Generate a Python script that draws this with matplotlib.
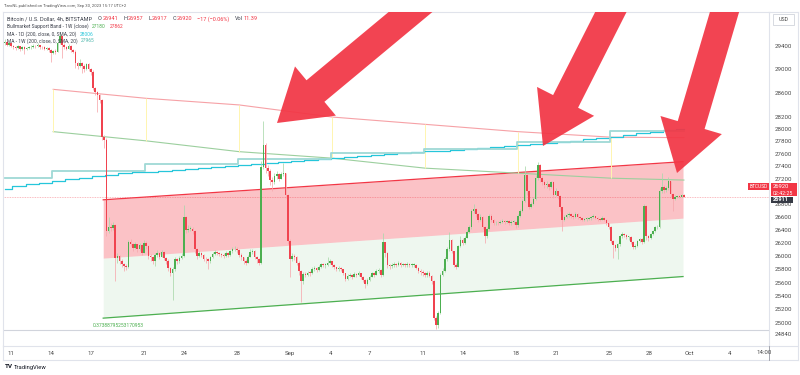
import numpy as np
import matplotlib
matplotlib.use('Agg')
import matplotlib.pyplot as plt
from matplotlib.patches import Polygon, Rectangle
from matplotlib.lines import Line2D
from matplotlib.ticker import NullLocator, NullFormatter

plt.rcParams['font.family'] = ['Roboto', 'DejaVu Sans']

# ---------------- data (BTC/USD 4h, Bitstamp) ----------------
first_open = 29450
close = [
    29470, 29420, 29440, 29400, 29380, 29360, 29390, 29350, 29370, 29340,
    29360, 29370, 29380, 29400, 29390, 29410, 29380, 29370, 29350, 29360,
    29330, 29280, 29310, 29300, 29450, 29560, 29420, 29380, 29350, 29400,
    29330, 29300, 29100, 29050, 29100, 29060, 29000, 29080, 29000, 28950,
    28680, 28620, 28560, 28480, 27870, 27830, 26380, 26450, 26430, 26480,
    25970, 26000, 25920, 25880, 25850, 25840, 26210, 26180, 26120, 26180,
    26100, 26170, 26050, 26200, 26150, 26000, 25980, 25920, 26010, 26050,
    25990, 26060, 25970, 25930, 25820, 25750, 25800, 25950, 25920, 25970,
    26000, 26600, 26400, 26420, 26420, 26380, 26100, 26000, 26040, 26020,
    25960, 25950, 25920, 25980, 26030, 26060, 26040, 26030, 26020, 26000,
    26040, 26010, 26070, 26100, 26110, 26090, 26020, 25980, 25920, 25900,
    25990, 26060, 26080, 25990, 25950, 25900, 27390, 27750, 27380, 27330,
    27180, 27150, 27250, 27280, 27200, 27280, 27290, 26950, 26230, 25950,
    26000, 25980, 25900, 25770, 25620, 25730, 25720, 25750, 25740, 25800,
    25820, 25790, 25840, 25880, 25860, 25860, 25900, 25920, 25870, 25830,
    25800, 25820, 25800, 25740, 25660, 25700, 25710, 25690, 25730, 25710,
    25740, 25690, 25640, 25580, 25640, 25690, 25740, 25720, 25770, 25790,
    25720, 26210, 26050, 25860, 25850, 25860, 25880, 25870, 25900, 25870,
    25880, 25870, 25880, 25860, 25870, 25870, 25820, 25780, 25760, 25740,
    25720, 25750, 25700, 25620, 25080, 24970, 25150, 25720, 25780, 25950,
    26100, 26250, 26070, 25870, 25840, 26150, 26250, 26200, 26280, 26370,
    26440, 26700, 26720, 26640, 26560, 26600, 26450, 26300, 26420, 26620,
    26550, 26500, 26510, 26500, 26520, 26540, 26520, 26530, 26510, 26520,
    26520, 26470, 26620, 26700, 26850, 27260, 27000, 26760, 26800, 26880,
    27210, 27420, 27210, 27150, 27100, 27120, 27070, 27150, 26950, 27000,
    26930, 26750, 26560, 26600, 26630, 26650, 26620, 26600, 26650, 26600,
    26580, 26560, 26570, 26570, 26580, 26600, 26610, 26590, 26570, 26560,
    26590, 26560, 26500, 26450, 26230, 26170, 26120, 26180, 26300, 26330,
    26320, 26290, 26290, 26220, 26140, 26160, 26230, 26260, 26220, 26770,
    26300, 26280, 26330, 26380, 26440, 26450, 27010, 27070, 27020, 27050,
    27160, 26960, 26880, 26920, 26930, 26920, 26940, 26920,
]
high = [
    29520, 29490, 29470, 29450, 29420, 29400, 29420, 29400, 29400, 29390,
    29380, 29400, 29410, 29430, 29420, 29440, 29420, 29400, 29390, 29380,
    29370, 29340, 29330, 29340, 29480, 29640, 29580, 29450, 29400, 29430,
    29410, 29350, 29320, 29130, 29180, 29120, 29080, 29110, 29100, 29020,
    28980, 28700, 28640, 28580, 28500, 27900, 27850, 26600, 26500, 26520,
    26490, 26050, 26020, 25950, 25900, 25880, 26250, 26260, 26200, 26220,
    26190, 26200, 26180, 26240, 26230, 26170, 26030, 26000, 26040, 26090,
    26060, 26090, 26070, 25990, 25950, 25840, 25830, 25980, 25970, 26000,
    26040, 26790, 26620, 26480, 26460, 26440, 26400, 26120, 26080, 26060,
    26030, 25990, 25970, 26000, 26060, 26090, 26080, 26060, 26050, 26040,
    26070, 26060, 26090, 26140, 26150, 26130, 26100, 26040, 25990, 25950,
    26020, 26100, 26110, 26090, 26000, 25970, 27480, 28140, 27780, 27420,
    27350, 27230, 27290, 27320, 27300, 27310, 27450, 27300, 26960, 26260,
    26050, 26030, 26000, 25920, 25790, 25760, 25760, 25780, 25770, 25830,
    25850, 25830, 25870, 25900, 25890, 25900, 25980, 25950, 25930, 25880,
    25840, 25850, 25830, 25810, 25750, 25730, 25740, 25730, 25760, 25750,
    25770, 25750, 25700, 25650, 25670, 25710, 25760, 25760, 25800, 25820,
    25800, 26350, 26220, 26060, 25880, 25890, 25910, 25900, 25920, 25910,
    25900, 25900, 25910, 25900, 25890, 25900, 25880, 25830, 25800, 25790,
    25760, 25780, 25770, 25720, 25640, 25100, 25180, 25740, 25820, 25990,
    26130, 26360, 26260, 26080, 25900, 26170, 26300, 26270, 26310, 26400,
    26480, 26730, 26800, 26740, 26660, 26640, 26620, 26460, 26450, 26650,
    26640, 26570, 26540, 26540, 26550, 26570, 26560, 26560, 26550, 26550,
    26550, 26530, 26650, 26730, 26880, 27400, 27280, 27020, 26840, 26910,
    27260, 27470, 27430, 27240, 27180, 27160, 27130, 27170, 27160, 27050,
    27010, 26950, 26760, 26630, 26660, 26680, 26660, 26640, 26670, 26660,
    26620, 26600, 26590, 26600, 26600, 26620, 26640, 26620, 26600, 26590,
    26610, 26600, 26570, 26510, 26460, 26250, 26190, 26200, 26320, 26360,
    26350, 26330, 26310, 26300, 26230, 26190, 26250, 26280, 26270, 26800,
    26780, 26320, 26350, 26400, 26460, 26480, 27050, 27290, 27100, 27080,
    27230, 27170, 26970, 26940, 26950, 26950, 26957, 26957,
]
low = [
    29420, 29390, 29400, 29370, 29340, 29320, 29340, 29310, 29330, 29250,
    29320, 29340, 29350, 29360, 29360, 29370, 29350, 29340, 29320, 29330,
    29290, 29120, 29250, 29260, 29290, 29430, 29190, 29350, 29320, 29340,
    29300, 29270, 29020, 29000, 29030, 28940, 28960, 28990, 28970, 28900,
    28650, 28560, 28280, 28440, 27830, 27700, 26300, 26350, 26380, 26400,
    25620, 25900, 25880, 25830, 25780, 25790, 25820, 26150, 26080, 26100,
    26060, 26080, 26010, 26040, 26110, 25960, 25930, 25880, 25850, 25990,
    25960, 25980, 25940, 25880, 25780, 25700, 25340, 25780, 25880, 25900,
    25950, 25980, 26350, 26370, 26380, 26330, 26050, 25960, 25980, 25990,
    25920, 25900, 25800, 25900, 25970, 26010, 26010, 26000, 25990, 25970,
    25990, 25980, 26000, 26050, 26080, 26050, 25990, 25940, 25880, 25860,
    25890, 25980, 26030, 25960, 25900, 25870, 25880, 27350, 27300, 27250,
    27100, 27000, 27120, 27200, 27170, 27190, 27240, 26900, 26180, 25690,
    25920, 25940, 25860, 25720, 25310, 25580, 25680, 25700, 25700, 25730,
    25780, 25760, 25780, 25820, 25830, 25820, 25850, 25880, 25840, 25800,
    25770, 25780, 25770, 25710, 25620, 25640, 25680, 25660, 25680, 25690,
    25700, 25660, 25610, 25520, 25560, 25620, 25680, 25690, 25710, 25750,
    25690, 25700, 25980, 25820, 25800, 25820, 25840, 25840, 25850, 25840,
    25850, 25840, 25840, 25830, 25830, 25830, 25800, 25740, 25720, 25700,
    25690, 25690, 25680, 25580, 25050, 24920, 24930, 25130, 25700, 25760,
    25930, 26080, 26040, 25830, 25800, 25830, 26140, 26170, 26190, 26270,
    26350, 26420, 26660, 26600, 26520, 26540, 26410, 26200, 26280, 26400,
    26520, 26470, 26480, 26470, 26490, 26500, 26490, 26500, 26480, 26480,
    26490, 26430, 26450, 26600, 26680, 26830, 26950, 26720, 26740, 26780,
    26860, 27180, 27150, 27100, 27060, 27050, 27020, 27050, 26900, 26930,
    26880, 26700, 26380, 26530, 26580, 26600, 26590, 26570, 26580, 26570,
    26550, 26530, 26540, 26540, 26550, 26560, 26580, 26570, 26540, 26530,
    26550, 26530, 26470, 26420, 26200, 25970, 26070, 25950, 26150, 26280,
    26290, 26260, 26250, 26190, 26100, 26110, 26140, 26210, 26190, 26200,
    26250, 26230, 26260, 26320, 26370, 26410, 26430, 26980, 26980, 26990,
    27030, 26920, 26700, 26860, 26900, 26900, 26910, 26917,
]

# MA - 1D (200 SMA), one value per day, Aug 10 .. Sep 30
ma1d_daily = [
    27040, 27080, 27110, 27140, 27165, 27200, 27220, 27250, 27265, 27290,
    27305, 27315, 27325, 27345, 27360, 27370, 27390, 27405, 27420, 27435,
    27450, 27465, 27480, 27495, 27515, 27530, 27545, 27560, 27580, 27595,
    27610, 27625, 27640, 27650, 27665, 27680, 27690, 27705, 27720, 27740,
    27755, 27770, 27785, 27810, 27835, 27860, 27880, 27905, 27930, 27955,
    27980, 28006,
]
# weekly series (week opens at these bar indices)
week_starts = [22, 64, 106, 148, 190, 232, 274]
ma1w_weekly = [27220, 27326, 27430, 27520, 27615, 27683, 27790, 27965]
band_x = [22, 64, 106, 148, 190, 232, 274, 307]
band_red = [28660, 28510, 28400, 28200, 28080, 27960, 27870, 27862]
band_green = [27960, 27810, 27635, 27530, 27370, 27290, 27210, 27180]

# parallel channel drawing
channel_x = [44.6, 306.6]
channel_top = [26868, 27474]
channel_mid = [25968, 26582]
channel_bot = [25073, 25690]
fib_label = "0.37388795253170953"

price_ticks = [29400, 29000, 28600, 28200, 28000, 27800, 27600, 27400, 27200,
               26800, 26600, 26400, 26200, 26000, 25800, 25600, 25400, 25200,
               25000, 24840]
date_labels = ['11', '14', '17', '21', '24', '28', 'Sep', '4', '7', '11', '14',
               '18', '21', '25', '28', 'Oct', '4']
date_days = [0, 3, 6, 10, 13, 17, 21, 24, 27, 31, 34, 38, 41, 45, 48, 51, 54]
last_price = 26920
other_price = 26911
hline_price = 24900

# ---------------- figure ----------------
W, H = 800, 375
fig = plt.figure(figsize=(8, 3.75), dpi=100)
fig.patch.set_facecolor('white')


def fx(px):
    return px / W


def fy(py):
    return 1 - py / H


ax = fig.add_axes([fx(3), fy(346), fx(769) - fx(3), fy(12) - fy(346)])
ax.set_yscale('log')
ax.set_xlim(-0.68, 345.45)
ax.set_ylim(24668, 29985)

RED = '#f23645'
GREEN = '#4caf50'
UPC = '#4caf50'
DNC = '#f0434f'

idx = np.arange(len(close))
c = np.array(close, float)
o = np.array([first_open] + close[:-1], float)
up = c >= o

# channel fills
ax.fill_between(channel_x, channel_mid, channel_top, color=RED, alpha=0.3, lw=0, zorder=1)
ax.fill_between(channel_x, channel_bot, channel_mid, color=GREEN, alpha=0.09, lw=0, zorder=1)
ax.plot(channel_x, channel_top, color=RED, lw=0.9, zorder=2)
ax.plot(channel_x, channel_bot, color=GREEN, lw=0.9, zorder=2)
ax.annotate(fib_label, xy=(channel_x[0], channel_bot[0]), xytext=(11, -5.2),
            textcoords='offset points', ha='center', va='center', fontsize=3.6,
            color=GREEN)

# horizontal line and last price line
ax.axhline(hline_price, color='#d1d4dc', lw=0.8, zorder=1)
ax.axhline(last_price, color=RED, lw=0.6, ls=(0, (1, 1)), alpha=0.45, zorder=2)

# bull market support band
ax.plot(band_x, band_red, color='#f6a1a6', lw=0.8, zorder=2)
ax.plot(band_x, band_green, color='#9ccf9e', lw=0.8, zorder=2)
ax.vlines(week_starts, band_green[:-1], band_red[:-1], color='#fff5b0', lw=0.7, zorder=2)

# moving averages
ma1d = np.repeat(ma1d_daily, 6)[2:2 + len(close)]
ax.plot(idx, ma1d, color='#26c6da', lw=0.9, drawstyle='steps-mid', zorder=3)
wk = np.searchsorted(week_starts, idx, side='right')
ma1w = np.array(ma1w_weekly)[wk]
ax.plot(idx, ma1w, color='#9fd9d6', lw=1.3, drawstyle='steps-mid', zorder=3)

# candles
wick_cols = np.where(up, '#a9d8ab', '#f7a9ae')
ax.vlines(idx, low, high, colors=wick_cols, lw=0.55, zorder=4)
body_b = np.minimum(o, c)
body_h = np.maximum(np.abs(c - o), 12)
ax.bar(idx, body_h, bottom=body_b, width=0.72, color=np.where(up, UPC, DNC),
       lw=0, zorder=5)

# axes styling
for s in ax.spines.values():
    s.set_color('#e0e3eb')
    s.set_linewidth(0.8)
ax.yaxis.tick_right()
ax.set_yticks(price_ticks)
ax.set_yticklabels([str(v) for v in price_ticks])
ax.yaxis.set_minor_locator(NullLocator())
ax.yaxis.set_minor_formatter(NullFormatter())
ax.tick_params(axis='y', length=0, pad=4, labelsize=4.4, labelcolor='#4a4a4a')
ax.set_xticks([2.9 + 6.01 * d for d in date_days])
ax.set_xticklabels(date_labels)
ax.tick_params(axis='x', length=0, pad=3.5, labelsize=4.4, labelcolor='#4a4a4a')
ax.set_facecolor('white')


# arrows (drawing tool), in pixel coordinates of the figure
def arrow_points(tip, tail, head_len=50, head_w=64, shaft_w=28):
    tip = np.array(tip, float)
    tail = np.array(tail, float)
    d = tail - tip
    u = d / np.hypot(*d)
    n = np.array([-u[1], u[0]])
    base = tip + u * head_len
    pts = [tip, base + n * head_w / 2, base + n * shaft_w / 2, tail + n * shaft_w / 2,
           tail - n * shaft_w / 2, base - n * shaft_w / 2, base - n * head_w / 2]
    return [(fx(p[0]), fy(p[1])) for p in pts]


for tip, tail in [((277, 123), (443, -15)), ((543, 146), (622, -10)), ((677, 173), (731, -10))]:
    poly = Polygon(arrow_points(tip, tail), closed=True, transform=fig.transFigure,
                   fc=RED, ec='none', alpha=0.93, zorder=10)
    ax.add_patch(poly)

# frame lines around price / time scales
fig.add_artist(Line2D([fx(769), fx(798)], [fy(12), fy(12)], color='#e0e3eb', lw=0.8))
fig.add_artist(Line2D([fx(3), fx(798)], [fy(360), fy(360)], color='#e0e3eb', lw=0.8))
fig.add_artist(Line2D([fx(769), fx(798)], [fy(346), fy(346)], color='#e0e3eb', lw=0.8))
fig.add_artist(Line2D([fx(798), fx(798)], [fy(12), fy(360)], color='#e0e3eb', lw=0.8))
fig.add_artist(Line2D([fx(3), fx(3)], [fy(346), fy(360)], color='#e0e3eb', lw=0.8))
fig.add_artist(Line2D([fx(769), fx(769)], [fy(346), fy(360)], color='#9598a1', lw=0.6))


def box(x0, y0, x1, y1, fc, ec='none'):
    fig.add_artist(Rectangle((fx(x0), fy(y1)), fx(x1) - fx(x0), fy(y0) - fy(y1),
                             transform=fig.transFigure, fc=fc, ec=ec, lw=0.6))


# price scale labels
box(773, 14, 794, 25, 'white', '#d1d4dc')
fig.text(fx(783.5), fy(19.5), 'USD', fontsize=3.8, color='#4a4a4a', ha='center', va='center')
box(771, 183, 797, 196, RED)
fig.text(fx(773), fy(187), str(last_price), fontsize=4.2, color='white', ha='left', va='center')
fig.text(fx(773), fy(193), '02:42:25', fontsize=3.8, color='white', ha='left', va='center')
box(771, 196.5, 793, 202.5, '#363a45')
fig.text(fx(773), fy(199.5), str(other_price), fontsize=4.0, color='white', ha='left',
         va='center', fontweight='bold')
box(748, 183, 769, 190, RED)
fig.text(fx(758.5), fy(186.5), 'BTCUSD', fontsize=3.5, color='white', ha='center', va='center')
fig.text(fx(764), fy(353), '14:00', fontsize=4.4, color='#4a4a4a', ha='center', va='center')

# header and legend
fig.text(fx(4), fy(6), 'TaroNL published on TradingView.com, Sep 30, 2023 15:17 UTC+2',
         fontsize=3.0, color='#555555', ha='left', va='center')

renderer = fig.canvas.get_renderer()
DARK = '#3b3f4a'


def seq_text(x_px, y_px, parts, fs=3.5):
    x = x_px
    for s, col, gap in parts:
        x += gap
        t = fig.text(fx(x), fy(y_px), s, color=col, fontsize=fs, ha='left', va='center')
        x += t.get_window_extent(renderer=renderer).width


seq_text(7, 19, [('Bitcoin / U.S. Dollar, 4h, BITSTAMP', DARK, 0), ('O', DARK, 6), ('26941', RED, 0.5),
                 ('H', DARK, 5), ('26957', RED, 0.5), ('L', DARK, 5), ('26917', RED, 0.5),
                 ('C', DARK, 5), ('26920', RED, 0.5), ('\u221217 (\u22120.06%)', RED, 5),
                 ('Vol', DARK, 6), ('11.39', RED, 0.5)], fs=4.0)
seq_text(7, 26.5, [('Bullmarket Support Band - 1W (close)', DARK, 0), ('27180', GREEN, 3.5),
                   ('27862', RED, 3.5)])
seq_text(7, 34, [('MA - 1D (200, close, 0, SMA, 20)', DARK, 0), ('28006', '#26c6da', 3.5)])
seq_text(7, 41, [('MA - 1W (200, close, 0, SMA, 20)', DARK, 0), ('27965', '#4db6ac', 3.5)])

# TradingView logo
fig.text(fx(5), fy(367), 'TV', fontsize=4.6, color='#131722', ha='left', va='center',
         fontweight='bold')
fig.text(fx(14), fy(367), 'TradingView', fontsize=4.2, color='#131722', ha='left', va='center')

fig.savefig('out.png', dpi=100, facecolor='white')
